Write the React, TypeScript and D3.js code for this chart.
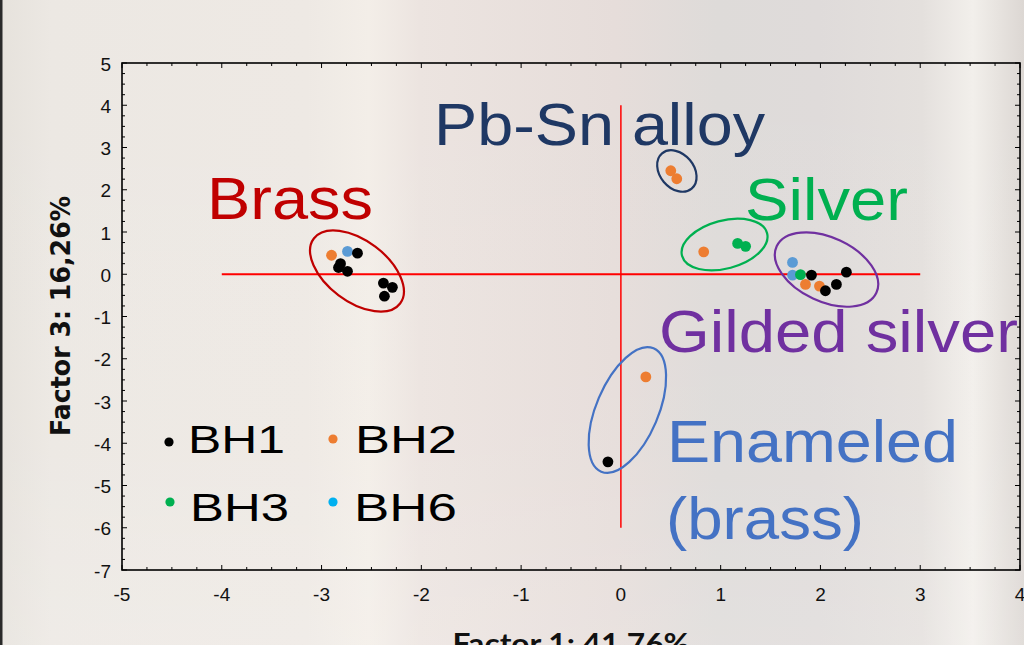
import * as d3 from "d3";
import { useEffect } from "react";

// scores on factor 1 / factor 3, one list per site
const bh1: [number, number][] = [
  [-2.64, 0.5], [-2.81, 0.25], [-2.83, 0.16], [-2.74, 0.07],
  [-2.38, -0.21], [-2.29, -0.31], [-2.37, -0.52],
  [1.91, -0.02], [2.05, -0.39], [2.16, -0.24], [2.26, 0.05],
  [-0.13, -4.44],
];
const bh2: [number, number][] = [
  [-2.9, 0.45], [0.5, 2.45], [0.56, 2.26], [0.83, 0.53],
  [1.85, -0.24], [1.99, -0.28], [0.25, -2.43],
];
const bh3: [number, number][] = [[1.17, 0.73], [1.25, 0.66], [1.8, -0.01]];
const bh6: [number, number][] = [[-2.74, 0.54], [1.72, 0.28], [1.72, -0.02]];

const xTicks = [-5, -4, -3, -2, -1, 0, 1, 2, 3, 4];
const yTicks = [5, 4, 3, 2, 1, 0, -1, -2, -3, -4, -5, -6, -7];

const groupNames = ["Brass", "Pb-Sn alloy", "Silver", "Gilded silver", "Enameled", "(brass)"];
const legendNames = ["BH1", "BH2", "BH3", "BH6"];

const W = 1024;
const H = 645;

const x = d3.scaleLinear().domain([-5, 4]).range([122, 1020]);
const y = d3.scaleLinear().domain([-7, 5]).range([570, 63]);

// group ellipses: centre in data units, radii in px, rotation in deg
const rings = [
  { cx: -2.645, cy: 0.077, rx: 54, ry: 30.5, rot: 37, color: "#C00000" },
  { cx: 0.561, cy: 2.444, rx: 23, ry: 17, rot: 50, color: "#1F3864" },
  { cx: 1.039, cy: 0.704, rx: 44, ry: 24, rot: -15, color: "#00B050" },
  { cx: 2.061, cy: 0.111, rx: 55, ry: 32, rot: 25, color: "#7030A0" },
  { cx: 0.065, cy: -3.213, rx: 67, ry: 31, rot: -67, color: "#4472C4" },
];

const labelStyle = [
  { x: 207, y: 219, w: 166, color: "#C00000" },
  { x: 434, y: 145, w: 331, color: "#1F3864" },
  { x: 745, y: 220, w: 163, color: "#00B050" },
  { x: 659, y: 352, w: 359, color: "#7030A0" },
  { x: 667, y: 462, w: 291, color: "#4472C4" },
  { x: 666, y: 539, w: 198, color: "#4472C4" },
];

const series = [
  { data: bh6, color: "#5B9BD5" },
  { data: bh3, color: "#00B050" },
  { data: bh2, color: "#ED7D31" },
  { data: bh1, color: "#000000" },
];

const legendPos = [
  { dx: 169, dy: 442, tx: 188, ty: 453, w: 97, color: "#000000" },
  { dx: 333, dy: 439, tx: 355, ty: 453, w: 102, color: "#ED7D31" },
  { dx: 170, dy: 502, tx: 190, ty: 521, w: 99, color: "#00B050" },
  { dx: 333, dy: 502, tx: 354, ty: 521, w: 103, color: "#00B0F0" },
];

export default function App() {
  useEffect(() => {
    document.body.style.margin = "0";
  }, []);

  const minorX = d3.range(-5, 4.001, 0.25);
  const minorY = d3.range(-7, 5.001, 0.25);
  const isMajor = (v: number) => Math.abs(v - Math.round(v)) < 1e-6;

  return (
    <svg width={W} height={H} style={{ display: "block", position: "absolute", left: 0, top: 0 }}>
      <defs>
        <linearGradient id="bg" x1="0" x2="1" y1="0" y2="0">
          <stop offset="0" stopColor="#E6E2DC" />
          <stop offset="0.05" stopColor="#ECE8E3" />
          <stop offset="0.3" stopColor="#EEE9E4" />
          <stop offset="0.36" stopColor="#F3EEE8" />
          <stop offset="0.41" stopColor="#ECE4E0" />
          <stop offset="0.6" stopColor="#E6DDDA" />
          <stop offset="0.7" stopColor="#DEDBD9" />
          <stop offset="0.8" stopColor="#DFDBDA" />
          <stop offset="0.9" stopColor="#E4E0DD" />
          <stop offset="0.95" stopColor="#F2EFEB" />
          <stop offset="1" stopColor="#DCD7D3" />
        </linearGradient>
        <linearGradient id="shade" x1="0" x2="0" y1="0" y2="1">
          <stop offset="0" stopColor="#ffffff" stopOpacity="0" />
          <stop offset="0.7" stopColor="#ffffff" stopOpacity="0.05" />
          <stop offset="1" stopColor="#ffffff" stopOpacity="0.15" />
        </linearGradient>
      </defs>
      <rect width={W} height={H} fill="url(#bg)" />
      <rect width={W} height={H} fill="url(#shade)" />
      <rect x={0} y={0} width={2.5} height={H} fill="#2a2a2a" />

      {/* frame */}
      <rect x={x(-5)} y={y(5)} width={x(4) - x(-5)} height={y(-7) - y(5)} fill="none" stroke="#000" strokeWidth={1.6} />

      {/* inward ticks on all sides */}
      <g stroke="#000" strokeWidth={1}>
        {minorX.map((v) => {
          const len = isMajor(v) ? 5 : 3;
          return (
            <g key={"tx" + v}>
              <line x1={x(v)} x2={x(v)} y1={y(-7)} y2={y(-7) - len} />
              <line x1={x(v)} x2={x(v)} y1={y(5)} y2={y(5) + len} />
            </g>
          );
        })}
        {minorY.map((v) => {
          const len = isMajor(v) ? 5 : 3;
          return (
            <g key={"ty" + v}>
              <line x1={x(-5)} x2={x(-5) + len} y1={y(v)} y2={y(v)} />
              <line x1={x(4)} x2={x(4) - len} y1={y(v)} y2={y(v)} />
            </g>
          );
        })}
      </g>

      {/* tick labels */}
      <g fontFamily="'Liberation Sans', Arial, sans-serif" fontSize={19} fill="#111">
        {xTicks.map((v) => (
          <text key={"lx" + v} x={x(v)} y={601} textAnchor="middle">{v}</text>
        ))}
        {yTicks.map((v) => (
          <text key={"ly" + v} x={111} y={y(v) + 7.5} textAnchor="end">{v}</text>
        ))}
      </g>

      {/* axis titles */}
      <text
        transform={`translate(70,316) rotate(-90)`}
        textAnchor="middle"
        fontFamily="'DejaVu Sans', Verdana, sans-serif"
        fontWeight="bold"
        fontSize={26}
        textLength={240}
        lengthAdjust="spacingAndGlyphs"
        fill="#111"
      >
        Factor 3: 16,26%
      </text>
      <text
        x={571}
        y={654}
        textAnchor="middle"
        fontFamily="Lato, 'Open Sans', sans-serif"
        fontWeight="bold"
        fontSize={29}
        textLength={237}
        lengthAdjust="spacingAndGlyphs"
        fill="#111"
      >
        Factor 1: 41,76%
      </text>

      {/* origin cross */}
      <line x1={x(-4)} x2={x(3)} y1={y(0)} y2={y(0)} stroke="#FF0000" strokeWidth={2} />
      <line x1={x(0)} x2={x(0)} y1={y(4)} y2={y(-6)} stroke="#FF0000" strokeWidth={1.5} />

      {/* group labels */}
      <g fontFamily="'Liberation Sans', Arial, sans-serif" fontSize={59}>
        {groupNames.map((name, i) => (
          <text
            key={name}
            x={labelStyle[i].x}
            y={labelStyle[i].y}
            fill={labelStyle[i].color}
            textLength={labelStyle[i].w}
            lengthAdjust="spacingAndGlyphs"
          >
            {name}
          </text>
        ))}
      </g>

      {/* points */}
      {series.map((s, si) => (
        <g key={"s" + si} fill={s.color}>
          {s.data.map((d, i) => (
            <circle key={i} cx={x(d[0])} cy={y(d[1])} r={5.4} />
          ))}
        </g>
      ))}

      {/* group ellipses */}
      {rings.map((r, i) => (
        <ellipse
          key={"r" + i}
          cx={0}
          cy={0}
          rx={r.rx}
          ry={r.ry}
          transform={`translate(${x(r.cx)},${y(r.cy)}) rotate(${r.rot})`}
          fill="none"
          stroke={r.color}
          strokeWidth={2.2}
        />
      ))}

      {/* legend */}
      <g fontFamily="'Liberation Sans', Arial, sans-serif" fontSize={39} fill="#000">
        {legendNames.map((name, i) => (
          <g key={name}>
            <circle cx={legendPos[i].dx} cy={legendPos[i].dy} r={4.6} fill={legendPos[i].color} />
            <text
              x={legendPos[i].tx}
              y={legendPos[i].ty}
              textLength={legendPos[i].w}
              lengthAdjust="spacingAndGlyphs"
            >
              {name}
            </text>
          </g>
        ))}
      </g>
    </svg>
  );
}
